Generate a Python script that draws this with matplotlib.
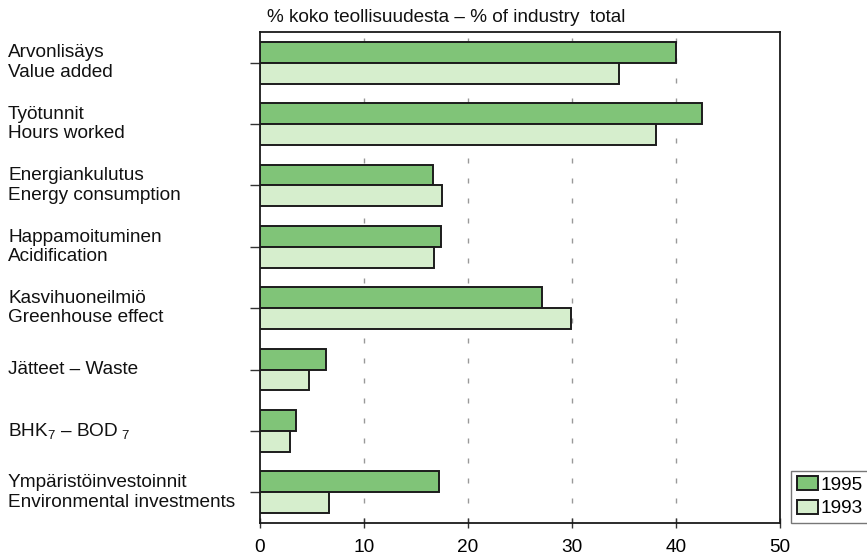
import matplotlib
matplotlib.use("Agg")
import matplotlib.pyplot as plt
import numpy as np

plt.rcParams['font.family'] = ['Liberation Sans', 'DejaVu Sans']
plt.rcParams['mathtext.fontset'] = 'custom'
plt.rcParams['mathtext.rm'] = 'Liberation Sans'
plt.rcParams['mathtext.it'] = 'Liberation Sans'

categories = [
    "Arvonlisäys\nValue added",
    "Työtunnit\nHours worked",
    "Energiankulutus\nEnergy consumption",
    "Happamoituminen\nAcidification",
    "Kasvihuoneilmiö\nGreenhouse effect",
    "Jätteet – Waste",
    "BHK$_7$ – BOD$_{\\ 7}$",
    "Ympäristöinvestoinnit\nEnvironmental investments",
]
values_1995 = [40.0, 42.5, 16.6, 17.45, 27.1, 6.3, 3.5, 17.2]
values_1993 = [34.5, 38.1, 17.5, 16.7, 29.9, 4.7, 2.9, 6.6]
series_names = ["1995", "1993"]
x_ticks = [0, 10, 20, 30, 40, 50]
title = "% koko teollisuudesta – % of industry  total"

color_1995 = "#80c478"
color_1993 = "#d6eecd"
edge = "#1c1c1c"
FS = 13.7

fig = plt.figure(figsize=(8.67, 5.55), dpi=100)
ax = fig.add_axes([260/867, 1-523/555, 520/867, (523-32)/555])

y = np.arange(len(categories))
h = 0.34
b1 = ax.barh(y - h/2, values_1995, height=h, color=color_1995, edgecolor=edge,
             linewidth=1.4, label=series_names[0], zorder=3)
b2 = ax.barh(y + h/2, values_1993, height=h, color=color_1993, edgecolor=edge,
             linewidth=1.4, label=series_names[1], zorder=3)

ax.set_xlim(0, 50)
ax.set_ylim(len(categories) - 0.5, -0.5)

for xv in x_ticks[1:-1]:
    ax.axvline(xv, color="#999999", linewidth=1.0, linestyle=(0, (3.6, 10.8)), zorder=1)

ax.set_xticks(x_ticks)
ax.set_xticklabels([str(v) for v in x_ticks], fontsize=FS)
ax.tick_params(axis='x', direction='inout', length=6.5, width=1, color="#333333", pad=8)
ax.set_yticks(y)
ax.set_yticklabels([])
ax.tick_params(axis='y', direction='out', length=7.2, width=1, color="#333333")

for s in ax.spines.values():
    s.set_color("#1a1a1a")
    s.set_linewidth(1.3)

for yi, lab in zip(y, categories):
    ax.text(-0.4846, yi, lab, transform=ax.get_yaxis_transform(), ha='left', va='center',
            fontsize=FS, linespacing=1.2, color="#111111")

fig.text(267/867, 1-17/555, title, ha='left', va='center', fontsize=FS, color="#111111")

leg = ax.legend(handles=[b1, b2], loc='lower left', bbox_to_anchor=(791/867, 32/555),
                bbox_transform=fig.transFigure, fontsize=FS, frameon=True, fancybox=False,
                handlelength=1.1, handleheight=0.75, handletextpad=0.15, borderpad=0.3,
                labelspacing=0.3, borderaxespad=0)
leg.get_frame().set_edgecolor("#555555")
leg.get_frame().set_linewidth(1.0)

fig.savefig("out.png", dpi=100)
